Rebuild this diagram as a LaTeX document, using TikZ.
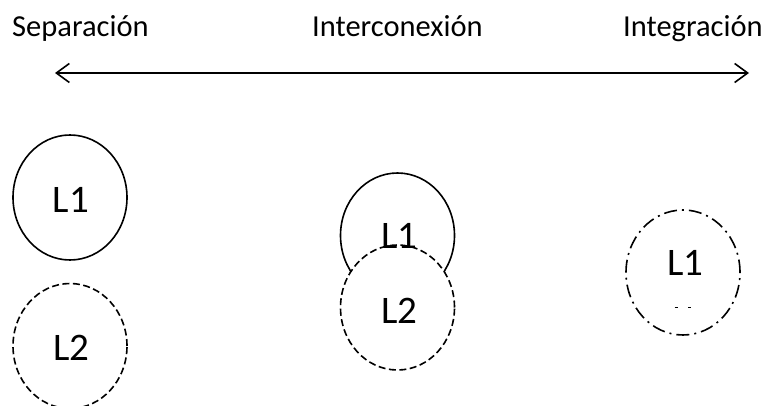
\documentclass[tikz,border=0pt]{standalone}
\usepackage{fontspec}
\setmainfont{Carlito}
\usetikzlibrary{arrows.meta,shapes.geometric}
\begin{document}
\begin{tikzpicture}[x=1pt,y=-1pt,
  circ/.style={ellipse,minimum width=114pt,minimum height=125pt,inner sep=0pt,line width=1.6pt},
  solidc/.style={circ,draw},
  dashc/.style={circ,draw,dash pattern=on 7pt off 3.5pt},
  dotdashc/.style={circ,draw,dash pattern=on 13pt off 5pt on 2pt off 5pt},
  lbl/.style={font=\fontsize{39}{44}\selectfont,inner sep=0pt},
  head/.style={font=\fontsize{30.5}{36}\selectfont,inner sep=0pt,anchor=base west}]
\useasboundingbox (0,0) rectangle (765,406);
% top labels
\node[head] (sep) at (12,37) {Separación};
\node[head] (int) at (312,37) {Interconexión};
\node[head] (ing) at (623,37) {Integración};
% axis arrow
\coordinate (aL) at (55,73);
\coordinate (aR) at (749,73);
\draw[line width=1.6pt,{Straight Barb[length=13pt,width=19pt,line width=1.6pt]}-{Straight Barb[length=13pt,width=19pt,line width=1.6pt]}] (aL) -- (aR);
% left column
\node[solidc] (sL1) at (70,197.5) {};
\node[lbl] (tsL1) at (71,199.5) {L1};
\node[dashc] (sL2) at (70,346) {};
\node[lbl] (tsL2) at (71.5,347.5) {L2};
% middle column
\node[solidc] (mL1) at (397.5,235.5) {};
\node[circ,fill=white] (mL2f) at (397.5,307.5) {};
\node[lbl] (tmL1) at (399.5,235.5) {L1};
\node[dashc] (mL2) at (397.5,307.5) {};
\node[lbl] (tmL2) at (399.5,310.5) {L2};
% right column
\node[dotdashc] (rL1) at (683,272.5) {};
\node[lbl] (trL1) at (685.5,262.5) {L1};
\coordinate (d1a) at (674.5,307);
\coordinate (d1b) at (677.5,307);
\coordinate (d2a) at (688,307);
\coordinate (d2b) at (691,307);
\draw[line width=0.8pt] (d1a) -- (d1b);
\draw[line width=0.8pt] (d2a) -- (d2b);
\end{tikzpicture}
\end{document}
